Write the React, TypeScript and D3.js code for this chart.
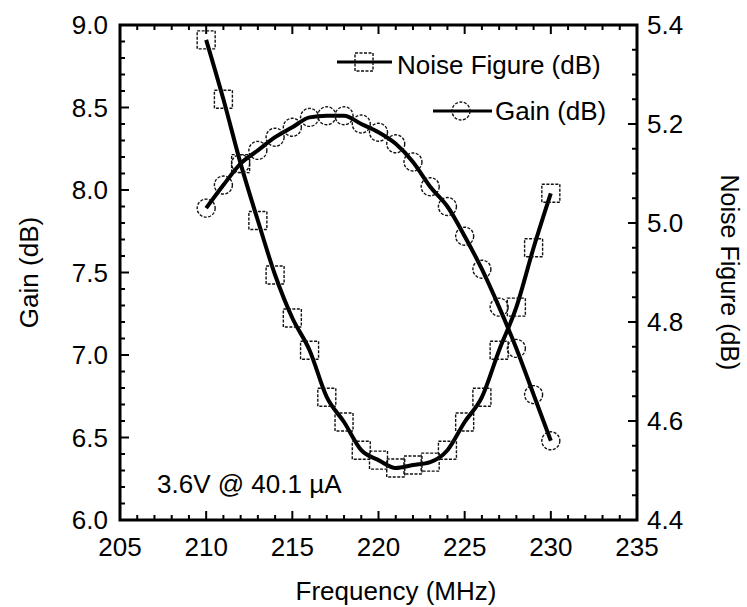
import React from 'react';
import * as d3 from 'd3';

// values
const freq = [210, 211, 212, 213, 214, 215, 216, 217, 218, 219, 220, 221, 222, 223, 224, 225, 226, 227, 228, 229, 230];
const gain = [7.89, 8.03, 8.16, 8.24, 8.32, 8.38, 8.44, 8.45, 8.45, 8.40, 8.35, 8.28, 8.17, 8.02, 7.90, 7.72, 7.52, 7.29, 7.04, 6.76, 6.48];
const noiseFigure = [5.37, 5.25, 5.12, 5.005, 4.895, 4.808, 4.743, 4.648, 4.598, 4.541, 4.521, 4.505, 4.511, 4.517, 4.541, 4.598, 4.648, 4.743, 4.83, 4.95, 5.06];

const xMajor = [205, 210, 215, 220, 225, 230, 235];
const gainMajor = [6.0, 6.5, 7.0, 7.5, 8.0, 8.5, 9.0];
const nfMajor = [4.4, 4.6, 4.8, 5.0, 5.2, 5.4];

const font = '"Liberation Sans", Arial, Helvetica, sans-serif';

export default function App() {
  const W = 747, H = 607;
  const margin = { top: 25, right: 110, bottom: 87, left: 120 };
  const x0 = margin.left, x1 = W - margin.right;
  const y0 = H - margin.bottom, y1 = margin.top;

  const x = d3.scaleLinear().domain([205, 235]).range([x0, x1]);
  const yG = d3.scaleLinear().domain([6, 9]).range([y0, y1]);
  const yN = d3.scaleLinear().domain([4.4, 5.4]).range([y0, y1]);

  const xMinor = d3.range(205, 236, 1);
  const gMinor = d3.range(0, 31).map(i => 6 + i * 0.1);
  const nMinor = d3.range(0, 21).map(i => 4.4 + i * 0.05);

  const pts = freq.map((f, i) => ({ f, g: gain[i], n: noiseFigure[i] }));

  const gainLine = d3.line<any>().x(d => x(d.f)).y(d => yG(d.g)).curve(d3.curveMonotoneX);
  const nfLine = d3.line<any>().x(d => x(d.f)).y(d => yN(d.n)).curve(d3.curveMonotoneX);

  const fmt = d3.format('.1f');
  const isMajor = (v: number, step: number) => Math.abs(v / step - Math.round(v / step)) < 1e-6;

  const sq = 18, r = 9;
  const markerStyle = { fill: 'none', stroke: '#111', strokeWidth: 1.4, strokeDasharray: '3,1.5' };

  return (
    <svg width={W} height={H} style={{ position: 'absolute', left: 0, top: 0, background: '#fff' }}
         fontFamily={font}>
      <rect x={0} y={0} width={W} height={H} fill="#fff" />

      {/* lines */}
      <path d={gainLine(pts) || ''} fill="none" stroke="#000" strokeWidth={4} />
      <path d={nfLine(pts) || ''} fill="none" stroke="#000" strokeWidth={4} />

      {/* markers */}
      {pts.map((d, i) => (
        <circle key={'c' + i} cx={x(d.f)} cy={yG(d.g)} r={r} {...markerStyle} />
      ))}
      {pts.map((d, i) => (
        <rect key={'s' + i} x={x(d.f) - sq / 2} y={yN(d.n) - sq / 2} width={sq} height={sq} {...markerStyle} />
      ))}

      {/* frame */}
      <rect x={x0} y={y1} width={x1 - x0} height={y0 - y1} fill="none" stroke="#000" strokeWidth={3} />

      {/* x ticks, bottom and top */}
      {xMinor.map(v => {
        const len = isMajor(v, 5) ? 9 : 5;
        return (
          <g key={'xt' + v} stroke="#000" strokeWidth={2}>
            <line x1={x(v)} x2={x(v)} y1={y0} y2={y0 - len} />
            <line x1={x(v)} x2={x(v)} y1={y1} y2={y1 + len} />
          </g>
        );
      })}
      {xMajor.map(v => (
        <text key={'xl' + v} x={x(v)} y={y0 + 36} textAnchor="middle" fontSize={26}>{v}</text>
      ))}

      {/* left gain axis */}
      {gMinor.map((v, i) => (
        <line key={'gt' + i} x1={x0} x2={x0 + (isMajor(v, 0.5) ? 9 : 5)} y1={yG(v)} y2={yG(v)} stroke="#000" strokeWidth={2} />
      ))}
      {gainMajor.map(v => (
        <text key={'gl' + v} x={x0 - 12} y={yG(v)} dy="0.36em" textAnchor="end" fontSize={26}>{fmt(v)}</text>
      ))}

      {/* right noise figure axis */}
      {nMinor.map((v, i) => (
        <line key={'nt' + i} x1={x1} x2={x1 - (isMajor(v, 0.2) ? 9 : 5)} y1={yN(v)} y2={yN(v)} stroke="#000" strokeWidth={2} />
      ))}
      {nfMajor.map(v => (
        <text key={'nl' + v} x={x1 + 10} y={yN(v)} dy="0.36em" textAnchor="start" fontSize={26}>{fmt(v)}</text>
      ))}

      {/* axis titles */}
      <text x={396} y={600} textAnchor="middle" fontSize={26}>Frequency (MHz)</text>
      <text transform={`translate(38,${(y0 + y1) / 2}) rotate(-90)`} textAnchor="middle" fontSize={26}>Gain (dB)</text>
      <text transform={`translate(721,${(y0 + y1) / 2}) rotate(90)`} textAnchor="middle" fontSize={25}>Noise Figure (dB)</text>

      {/* legend */}
      <line x1={337} x2={392} y1={62} y2={62} stroke="#000" strokeWidth={3} />
      <rect x={364 - sq / 2} y={62 - sq / 2} width={sq} height={sq} {...markerStyle} />
      <text x={397} y={74} fontSize={26}>Noise Figure (dB)</text>
      <line x1={433} x2={492} y1={111} y2={111} stroke="#000" strokeWidth={3} />
      <circle cx={461} cy={111} r={r} {...markerStyle} />
      <text x={495} y={120} fontSize={26}>Gain (dB)</text>

      {/* annotation */}
      <text x={157} y={493} fontSize={26}>3.6V @ 40.1 {'\u00B5'}A</text>
    </svg>
  );
}
